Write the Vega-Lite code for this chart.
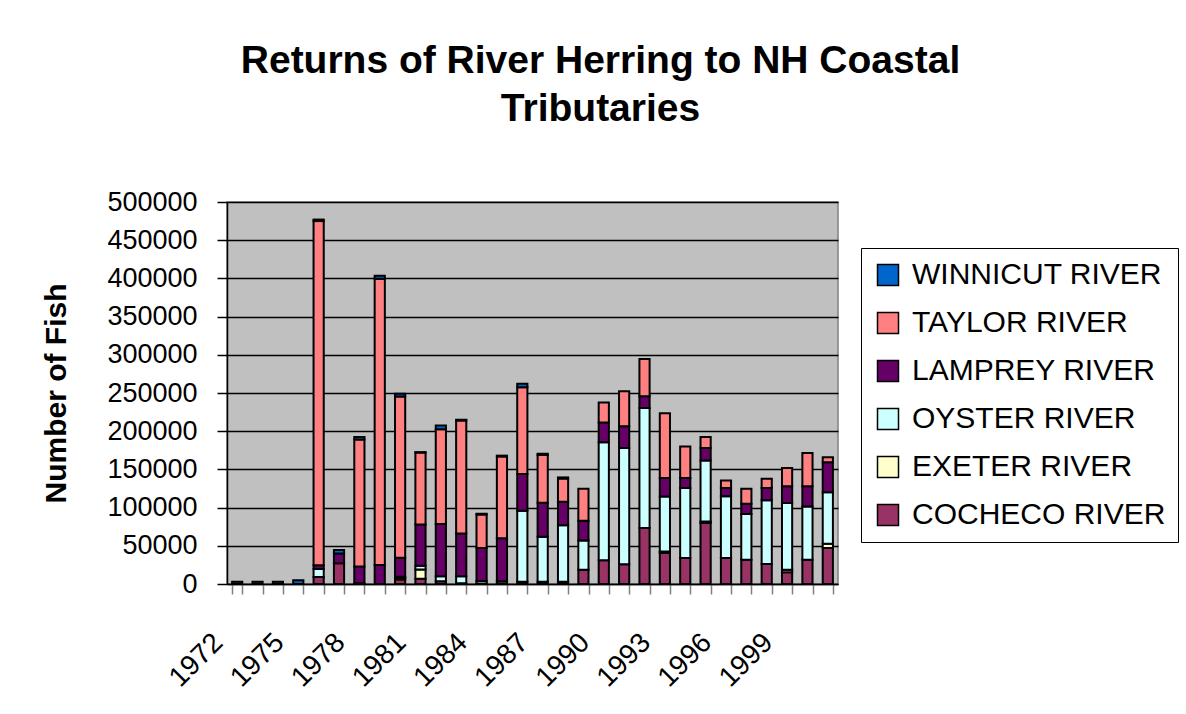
{
  "$schema": "https://vega.github.io/schema/vega-lite/v6.json",
  "autosize": {"type": "none"},
  "padding": {"left": 227, "top": 202, "right": 348, "bottom": 130},
  "width": 611,
  "height": 382,
  "background": "white",
  "title": {
    "text": ["Returns of River Herring to NH Coastal", "Tributaries"],
    "font": "Liberation Sans",
    "fontSize": 39,
    "fontWeight": "bold",
    "color": "black",
    "anchor": "middle",
    "dx": 68,
    "lineHeight": 48,
    "baseline": "bottom",
    "offset": 20
  },
  "data": {
    "values": [
      {"year": 1972, "WINNICUT RIVER": 3000},
      {"year": 1973, "WINNICUT RIVER": 3000},
      {"year": 1974, "WINNICUT RIVER": 3000},
      {"year": 1975, "WINNICUT RIVER": 5000},
      {"year": 1976, "COCHECO RIVER": 9000, "OYSTER RIVER": 10500, "LAMPREY RIVER": 5000, "TAYLOR RIVER": 450500, "WINNICUT RIVER": 2000},
      {"year": 1977, "COCHECO RIVER": 27000, "LAMPREY RIVER": 13000, "WINNICUT RIVER": 4500},
      {"year": 1978, "COCHECO RIVER": 1000, "LAMPREY RIVER": 22000, "TAYLOR RIVER": 166000, "WINNICUT RIVER": 3500},
      {"year": 1979, "LAMPREY RIVER": 25000, "TAYLOR RIVER": 374500, "WINNICUT RIVER": 4000},
      {"year": 1980, "COCHECO RIVER": 6000, "EXETER  RIVER": 2000, "OYSTER RIVER": 1500, "LAMPREY RIVER": 25000, "TAYLOR RIVER": 211000, "WINNICUT RIVER": 3500},
      {"year": 1981, "COCHECO RIVER": 7000, "EXETER  RIVER": 12000, "OYSTER RIVER": 5000, "LAMPREY RIVER": 54000, "TAYLOR RIVER": 94000, "WINNICUT RIVER": 500},
      {"year": 1982, "COCHECO RIVER": 3500, "OYSTER RIVER": 6500, "LAMPREY RIVER": 68500, "TAYLOR RIVER": 124000, "WINNICUT RIVER": 5000},
      {"year": 1983, "COCHECO RIVER": 1000, "OYSTER RIVER": 9000, "LAMPREY RIVER": 56000, "TAYLOR RIVER": 148000, "WINNICUT RIVER": 1000},
      {"year": 1984, "COCHECO RIVER": 500, "OYSTER RIVER": 3500, "LAMPREY RIVER": 43000, "TAYLOR RIVER": 44000, "WINNICUT RIVER": 1000},
      {"year": 1985, "COCHECO RIVER": 500, "OYSTER RIVER": 3000, "LAMPREY RIVER": 56500, "TAYLOR RIVER": 107000, "WINNICUT RIVER": 1000},
      {"year": 1986, "COCHECO RIVER": 3000, "OYSTER RIVER": 93000, "LAMPREY RIVER": 48000, "TAYLOR RIVER": 113500, "WINNICUT RIVER": 4500},
      {"year": 1987, "COCHECO RIVER": 3000, "OYSTER RIVER": 59000, "LAMPREY RIVER": 44500, "TAYLOR RIVER": 62500, "WINNICUT RIVER": 1500},
      {"year": 1988, "COCHECO RIVER": 3000, "OYSTER RIVER": 74000, "LAMPREY RIVER": 30500, "TAYLOR RIVER": 30500, "WINNICUT RIVER": 1500},
      {"year": 1989, "COCHECO RIVER": 18800, "OYSTER RIVER": 38000, "LAMPREY RIVER": 26000, "TAYLOR RIVER": 42000},
      {"year": 1990, "COCHECO RIVER": 31000, "OYSTER RIVER": 154500, "LAMPREY RIVER": 26000, "TAYLOR RIVER": 26000},
      {"year": 1991, "COCHECO RIVER": 26000, "OYSTER RIVER": 152000, "LAMPREY RIVER": 28500, "TAYLOR RIVER": 45800},
      {"year": 1992, "COCHECO RIVER": 73300, "OYSTER RIVER": 157000, "LAMPREY RIVER": 15300, "TAYLOR RIVER": 49000},
      {"year": 1993, "COCHECO RIVER": 40600, "EXETER  RIVER": 2000, "OYSTER RIVER": 72000, "LAMPREY RIVER": 24000, "TAYLOR RIVER": 85000},
      {"year": 1994, "COCHECO RIVER": 34000, "OYSTER RIVER": 91600, "LAMPREY RIVER": 13000, "TAYLOR RIVER": 41400},
      {"year": 1995, "COCHECO RIVER": 79800, "EXETER  RIVER": 2000, "OYSTER RIVER": 80000, "LAMPREY RIVER": 16100, "TAYLOR RIVER": 14400},
      {"year": 1996, "COCHECO RIVER": 34000, "OYSTER RIVER": 80700, "LAMPREY RIVER": 10900, "TAYLOR RIVER": 10000},
      {"year": 1997, "COCHECO RIVER": 31800, "OYSTER RIVER": 59800, "LAMPREY RIVER": 13500, "TAYLOR RIVER": 19600},
      {"year": 1998, "COCHECO RIVER": 26200, "OYSTER RIVER": 83300, "LAMPREY RIVER": 16100, "TAYLOR RIVER": 12200},
      {"year": 1999, "COCHECO RIVER": 15300, "EXETER  RIVER": 3500, "OYSTER RIVER": 87300, "LAMPREY RIVER": 21800, "TAYLOR RIVER": 24000},
      {"year": 2000, "COCHECO RIVER": 31800, "OYSTER RIVER": 69800, "LAMPREY RIVER": 26200, "TAYLOR RIVER": 43600},
      {"year": 2001, "COCHECO RIVER": 47100, "EXETER  RIVER": 5700, "OYSTER RIVER": 67200, "LAMPREY RIVER": 39300, "TAYLOR RIVER": 6500}
    ]
  },
  "transform": [
    {"fold": ["COCHECO RIVER", "EXETER  RIVER", "OYSTER RIVER", "LAMPREY RIVER", "TAYLOR RIVER", "WINNICUT RIVER"], "as": ["river", "fish"]},
    {"filter": "datum.fish > 0"},
    {"calculate": "indexof(['COCHECO RIVER','EXETER  RIVER','OYSTER RIVER','LAMPREY RIVER','TAYLOR RIVER','WINNICUT RIVER'], datum.river)", "as": "stackOrder"}
  ],
  "mark": {"type": "bar", "stroke": "black", "strokeWidth": 2},
  "encoding": {
    "x": {
      "field": "year",
      "type": "ordinal",
      "scale": {"paddingInner": 0.5, "paddingOuter": 0.25},
      "axis": {
        "title": null,
        "tickBand": "extent",
        "tickSize": 10,
        "tickColor": "#808080",
        "tickWidth": 1.5,
        "domainColor": "black",
        "domainWidth": 1.5,
        "labelAngle": -45,
        "labelAlign": "right",
        "labelBaseline": "middle",
        "labelOffset": -19,
        "labelPadding": 44,
        "labelFont": "Liberation Sans",
        "labelFontSize": 28,
        "labelColor": "black",
        "labelOverlap": false,
        "labelExpr": "(datum.value - 1972) % 3 == 0 ? datum.label : ''",
        "grid": false
      }
    },
    "y": {
      "field": "fish",
      "type": "quantitative",
      "aggregate": "sum",
      "stack": "zero",
      "scale": {"domain": [0, 500000], "nice": false},
      "axis": {
        "title": "Number of Fish",
        "titleFont": "Liberation Sans",
        "titleFontSize": 30,
        "titleFontWeight": "bold",
        "titleColor": "black",
        "titleX": -171,
        "titleY": 191,
        "titleAlign": "center",
        "titleBaseline": "middle",
        "titleAngle": -90,
        "values": [0, 50000, 100000, 150000, 200000, 250000, 300000, 350000, 400000, 450000, 500000],
        "format": "d",
        "tickSize": 10,
        "tickColor": "black",
        "tickWidth": 1.5,
        "domainColor": "black",
        "domainWidth": 1.5,
        "labelPadding": 20,
        "labelFont": "Liberation Sans",
        "labelFontSize": 27,
        "labelColor": "black",
        "grid": true,
        "gridColor": "black",
        "gridWidth": 1.5,
        "gridOpacity": 1
      }
    },
    "color": {
      "field": "river",
      "type": "nominal",
      "scale": {
        "domain": ["WINNICUT RIVER", "TAYLOR RIVER", "LAMPREY RIVER", "OYSTER RIVER", "EXETER  RIVER", "COCHECO RIVER"],
        "range": ["#0066CC", "#FF8080", "#660066", "#CCFFFF", "#FFFFCC", "#993366"]
      },
      "legend": {
        "title": null,
        "orient": "none",
        "legendX": 634,
        "legendY": 46,
        "symbolType": "square",
        "symbolSize": 441,
        "symbolStrokeColor": "black",
        "symbolStrokeWidth": 1.5,
        "symbolOpacity": 1,
        "labelFont": "Liberation Sans",
        "labelFontSize": 30,
        "labelColor": "black",
        "labelOffset": 9,
        "labelLimit": 400,
        "labelExpr": "datum.label == 'WINNICUT RIVER' || datum.label == 'COCHECO RIVER' ? datum.label : '\u00a0' + datum.label",
        "rowPadding": 18,
        "padding": 12,
        "strokeColor": "black",
        "fillColor": "white"
      }
    },
    "order": {"field": "stackOrder", "type": "quantitative", "sort": "ascending"}
  },
  "config": {
    "view": {"fill": "#C0C0C0", "stroke": "#808080", "strokeWidth": 1.5},
    "bar": {"opacity": 1}
  }
}
